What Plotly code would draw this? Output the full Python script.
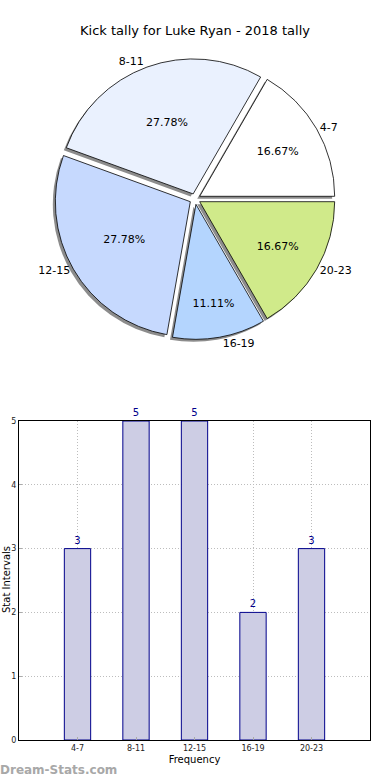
import plotly.graph_objects as go

categories = ["4-7", "8-11", "12-15", "16-19", "20-23"]
values = [3, 5, 5, 2, 3]
pie_colors = ["#FFFFFF", "#EAF1FE", "#C6D9FE", "#B4D5FE", "#D0EA8A"]
y_ticks = [0, 1, 2, 3, 4, 5]

W, H = 390, 780

def px(x):
    return x / W

def py(y):
    return 1 - y / H

pull = 0.04
r = 135
side = 2 * r * (1 + pull)
cx, cy = 195, 199
dom_x = [px(cx - side / 2), px(cx + side / 2)]
dom_y = [py(cy + side / 2), py(cy - side / 2)]
sh = 2.5
dom_x_sh = [px(cx - side / 2 - sh), px(cx + side / 2 - sh)]
dom_y_sh = [py(cy + side / 2 + sh), py(cy - side / 2 + sh)]

pie_common = dict(labels=categories, values=values, sort=False,
                  direction="counterclockwise", rotation=30,
                  pull=[pull] * len(values), showlegend=False)

fig = go.Figure()

# shadow pie
fig.add_trace(go.Pie(
    **pie_common, domain=dict(x=dom_x_sh, y=dom_y_sh),
    marker=dict(colors=["#8c8c8c"] * len(values), line=dict(width=0)),
    textinfo="none", hoverinfo="skip",
))
# main pie with percentages
fig.add_trace(go.Pie(
    **pie_common, domain=dict(x=dom_x, y=dom_y),
    marker=dict(colors=pie_colors, line=dict(color="#000000", width=0.8)),
    texttemplate="%{percent:.2%}", textposition="inside",
    insidetextorientation="horizontal",
    textfont=dict(family="DejaVu Sans", size=11, color="#000000"),
    hoverinfo="label+value",
))
# transparent pie for outside labels
fig.add_trace(go.Pie(
    **pie_common, domain=dict(x=dom_x, y=dom_y),
    marker=dict(colors=["rgba(0,0,0,0)"] * len(values), line=dict(width=0)),
    textinfo="label", textposition="outside",
    textfont=dict(family="DejaVu Sans", size=11, color="#000000"),
    hoverinfo="skip",
))

fig.add_trace(go.Bar(
    x=categories, y=values, width=0.45,
    marker=dict(color="#CDCDE4", line=dict(color="#00008B", width=1)),
    text=[str(v) for v in values], textposition="outside",
    textfont=dict(family="DejaVu Sans", size=10, color="#00008B"),
    cliponaxis=False, showlegend=False, xaxis="x", yaxis="y",
))

grid = dict(showgrid=True, gridcolor="#BDBDBD", griddash="1px,2px", gridwidth=1)

fig.update_layout(
    width=W, height=H, margin=dict(l=0, r=0, t=0, b=0),
    paper_bgcolor="white", plot_bgcolor="white",
    font=dict(family="DejaVu Sans", color="#000000"),
    title=dict(text="Kick tally for Luke Ryan - 2018 tally", x=0.5, xanchor="center",
               y=py(30), yanchor="middle",
               font=dict(family="DejaVu Sans", size=13, color="#000000")),
    xaxis=dict(domain=[px(19), px(370)], range=[-1, 5], type="category",
               categoryorder="array", categoryarray=categories,
               showline=True, mirror=True, linecolor="#000000", linewidth=1,
               **grid,
               ticks="inside", ticklen=3, tickcolor="#AAAAAA",
               tickfont=dict(size=8, color="#222222"),
               title=dict(text="Frequency", font=dict(size=10), standoff=4),
               zeroline=False, automargin=False),
    yaxis=dict(domain=[py(740), py(421)], range=[0, 5], tickvals=y_ticks,
               showline=True, mirror=True, linecolor="#000000", linewidth=1,
               **grid,
               ticks="inside", ticklen=3, tickcolor="#AAAAAA",
               tickfont=dict(size=8, color="#222222"),
               zeroline=False, automargin=False),
    annotations=[
        dict(text="Stat Intervals", x=px(6), y=py(580), xref="paper", yref="paper",
             textangle=-90, showarrow=False, xanchor="center", yanchor="middle",
             font=dict(family="DejaVu Sans", size=10, color="#000000")),
        dict(text="<b>Dream-Stats.com</b>", x=px(-2), y=py(770), xref="paper", yref="paper",
             showarrow=False, xanchor="left", yanchor="middle",
             font=dict(family="DejaVu Sans", size=12, color="#A8A8A8")),
    ],
)

fig.write_html("out.html", config={"displayModeBar": False},
               post_script="document.body.style.margin='0px';")
